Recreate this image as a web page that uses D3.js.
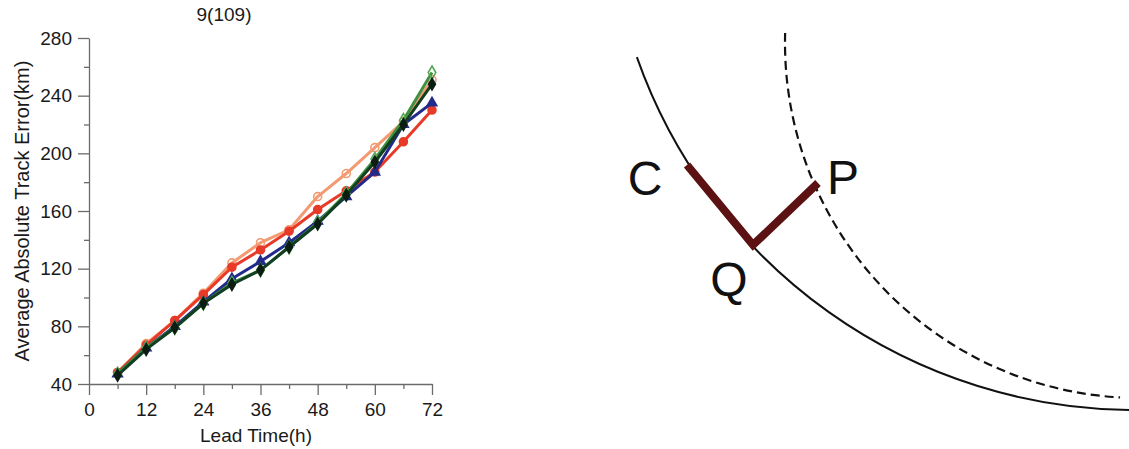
<!DOCTYPE html>
<html>
<head>
<meta charset="utf-8">
<script src="https://cdn.jsdelivr.net/npm/d3@7"></script>
<style>
  html, body { margin: 0; padding: 0; background: #fff; }
  svg { display: block; }
  text { font-family: "Liberation Sans", Arial, sans-serif; }
</style>
</head>
<body>
<svg id="chart" width="1129" height="449"></svg>
<script>
// ---- data ----
const leadTimes = [6, 12, 18, 24, 30, 36, 42, 48, 54, 60, 66, 72];
const seriesOrange = [48, 68, 84, 103, 124, 138, 147, 170, 186, 204, 222, 251];
const seriesRed    = [48, 67, 84, 102, 121, 133, 146, 161, 174, 187, 208, 230];
const seriesBlue   = [47, 65, 80, 97, 113, 125, 138, 153, 170, 187, 220, 235];
const seriesGreen  = [47, 65, 79, 96, 110, 119, 135, 152, 172, 196, 223, 256];
const seriesBlack  = [46, 64, 79, 96, 109, 119, 135, 151, 171, 194, 220, 248];
const xTickValues = [0, 12, 24, 36, 48, 60, 72];
const xMinorTicks = [6, 18, 30, 42, 54, 66];
const yTickValues = [40, 80, 120, 160, 200, 240, 280];
const yMinorTicks = [60, 100, 140, 180, 220, 260];
const chartTitle = "9(109)";
const xTitle = "Lead Time(h)";
const yTitle = "Average Absolute Track Error(km)";
const diagramLabels = ["C", "Q", "P"];

const svg = d3.select("#chart");

// ---- scales ----
const x = d3.scaleLinear().domain([0, 72]).range([89, 432]);
const y = d3.scaleLinear().domain([40, 280]).range([384, 38]);

// ---- axes ----
const axisColor = "#6b6b6b";
const gx = svg.append("g").attr("transform", `translate(0,${y(40)})`)
  .call(d3.axisBottom(x).tickValues(xTickValues).tickSize(11).tickPadding(8).tickSizeOuter(0));
const gxm = svg.append("g").attr("transform", `translate(0,${y(40)})`)
  .call(d3.axisBottom(x).tickValues(xMinorTicks).tickSize(5).tickFormat("").tickSizeOuter(0));
const gy = svg.append("g").attr("transform", `translate(${x(0)},0)`)
  .call(d3.axisLeft(y).tickValues(yTickValues).tickSize(11).tickPadding(6).tickSizeOuter(0));
const gym = svg.append("g").attr("transform", `translate(${x(0)},0)`)
  .call(d3.axisLeft(y).tickValues(yMinorTicks).tickSize(5).tickFormat("").tickSizeOuter(0));
[gx, gxm, gy, gym].forEach(g => {
  g.selectAll("path.domain").attr("stroke", axisColor).attr("stroke-width", 1.3);
  g.selectAll(".tick line").attr("stroke", axisColor).attr("stroke-width", 1.3);
  g.selectAll(".tick text").attr("fill", "#1a1a1a").style("font-size", "19px")
    .style("font-family", '"Liberation Sans", Arial, sans-serif');
});
gym.selectAll("path.domain").remove();
gxm.selectAll("path.domain").remove();

// ---- titles ----
svg.append("text").attr("x", 224).attr("y", 21).attr("text-anchor", "middle")
  .style("font-size", "19px").attr("fill", "#1a1a1a").text(chartTitle);
svg.append("text").attr("x", 256).attr("y", 442).attr("text-anchor", "middle")
  .style("font-size", "19px").attr("fill", "#1a1a1a").text(xTitle);
svg.append("text").attr("transform", "translate(29,211) rotate(-90)").attr("text-anchor", "middle")
  .style("font-size", "20px").attr("fill", "#1a1a1a").text(yTitle);

// ---- series ----
const series = [
  { vals: seriesOrange, line: "#f29a72", mark: "circle", fill: "none", stroke: "#f29a72", size: 50 },
  { vals: seriesRed,    line: "#e83a28", mark: "circle", fill: "#e83a28", stroke: "#e83a28", size: 50 },
  { vals: seriesBlue,   line: "#222a8a", mark: "triangle", fill: "#222a8a", stroke: "#222a8a", size: 40 },
  { vals: seriesGreen,  line: "#3f9140", mark: "diamond", fill: "none", stroke: "#56a856", size: 50 },
  { vals: seriesBlack,  line: "#123e22", mark: "diamond", fill: "#0c1e12", stroke: "#0c1e12", size: 40 }
];
const line = d3.line().x(d => x(d[0])).y(d => y(d[1]));
const symType = { circle: d3.symbolCircle, triangle: d3.symbolTriangle, diamond: d3.symbolDiamond };
series.forEach(s => {
  const pts = leadTimes.map((t, i) => [t, s.vals[i]]);
  svg.append("path").datum(pts).attr("d", line).attr("fill", "none")
    .attr("stroke", s.line).attr("stroke-width", 3).attr("stroke-linejoin", "round");
  svg.append("g").selectAll("path").data(pts).join("path")
    .attr("transform", d => `translate(${x(d[0])},${y(d[1])})`)
    .attr("d", d3.symbol().type(symType[s.mark]).size(s.size))
    .attr("fill", s.fill === "none" ? "#fff" : s.fill).attr("fill-opacity", s.fill === "none" ? 0 : 1)
    .attr("stroke", s.stroke).attr("stroke-width", 1.6);
});

// ---- schematic diagram ----
const dg = svg.append("g");
const solid = d3.path();
solid.arc(1135, -118, 528, 2.8036, 1.575, true);
dg.append("path").attr("d", solid.toString()).attr("fill", "none")
  .attr("stroke", "#111").attr("stroke-width", 2);
const dashed = d3.path();
dashed.arc(1140, 43, 355, 3.170, 1.627, true);
dg.append("path").attr("d", dashed.toString()).attr("fill", "none")
  .attr("stroke", "#111").attr("stroke-width", 2.2).attr("stroke-dasharray", "9,5");
const bent = d3.line()([[687, 165], [753, 245], [818, 183]]);
dg.append("path").attr("d", bent).attr("fill", "none")
  .attr("stroke", "#5c1212").attr("stroke-width", 8).attr("stroke-linejoin", "miter");
const labelPos = { C: [645, 195], Q: [729, 296], P: [843, 194] };
diagramLabels.forEach(l => {
  dg.append("text").attr("x", labelPos[l][0]).attr("y", labelPos[l][1])
    .attr("text-anchor", "middle").style("font-size", "48px").attr("fill", "#111").text(l);
});
</script>
</body>
</html>
